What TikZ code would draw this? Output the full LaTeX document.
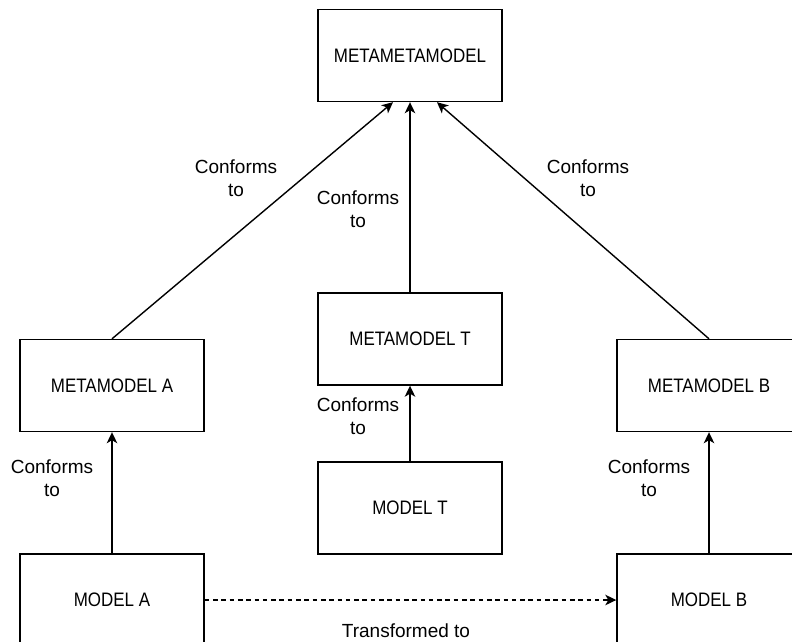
\documentclass[tikz,border=0pt]{standalone}
\usepackage{fontspec}
\setmainfont{Liberation Sans}
\newfontfamily\boxfont[FakeStretch=0.87]{Liberation Sans}
\usetikzlibrary{arrows.meta}
\begin{document}
\begin{tikzpicture}[x=1pt,y=-1pt,
  modelbox/.style={draw, line width=1.4pt, minimum width=184pt, minimum height=92pt,
    inner sep=0pt, font=\boxfont\fontsize{19.5}{23}\selectfont},
  % base anchor of a two-line label sits on its last line
  edgelabel/.style={align=center, inner sep=0pt, anchor=base,
    font=\fontsize{19}{23}\selectfont},
  conn/.style={line width=1.4pt, -{Stealth[length=11pt,width=10.5pt,inset=3pt]}},
  transform/.style={conn, dash pattern=on 4.6pt off 3.7pt},
]
\useasboundingbox (0,0) rectangle (792,641);
\clip (0,0) rectangle (792,641);

% model boxes
\node[modelbox] (mmm) at (410,55.5)  {METAMETAMODEL};
\node[modelbox] (mmt) at (410,339)   {METAMODEL T};
\node[modelbox] (mt)  at (410,508)   {MODEL T};
\node[modelbox] (mma) at (112,385.5) {METAMODEL A};
\node[modelbox] (mmb) at (709,385.5) {METAMODEL B};
\node[modelbox] (ma)  at (112,600)   {MODEL A};
\node[modelbox] (mb)  at (709,600)   {MODEL B};

% conformance relations
\draw[conn] (mma.north) -- ([xshift=-17pt]mmm.south);
\draw[conn] (mmt.north) -- (mmm.south);
\draw[conn] (mmb.north) -- ([xshift=27pt]mmm.south);
\draw[conn] (mt.north) -- (mmt.south);
\draw[conn] (ma.north) -- (mma.south);
\draw[conn] (mb.north) -- (mmb.south);

% transformation
\draw[transform] (ma.east) -- (mb.west);

% labels
\node[edgelabel] (lbla)  at (236,196) {Conforms\\to};
\node[edgelabel] (lblt)  at (358,227) {Conforms\\to};
\node[edgelabel] (lblb)  at (588,196) {Conforms\\to};
\node[edgelabel] (lblmt) at (358,434) {Conforms\\to};
\node[edgelabel] (lblma) at (52,496)  {Conforms\\to};
\node[edgelabel] (lblmb) at (649,496) {Conforms\\to};
\node[edgelabel] (lbltr) at (406,637) {Transformed to};
\end{tikzpicture}
\end{document}
